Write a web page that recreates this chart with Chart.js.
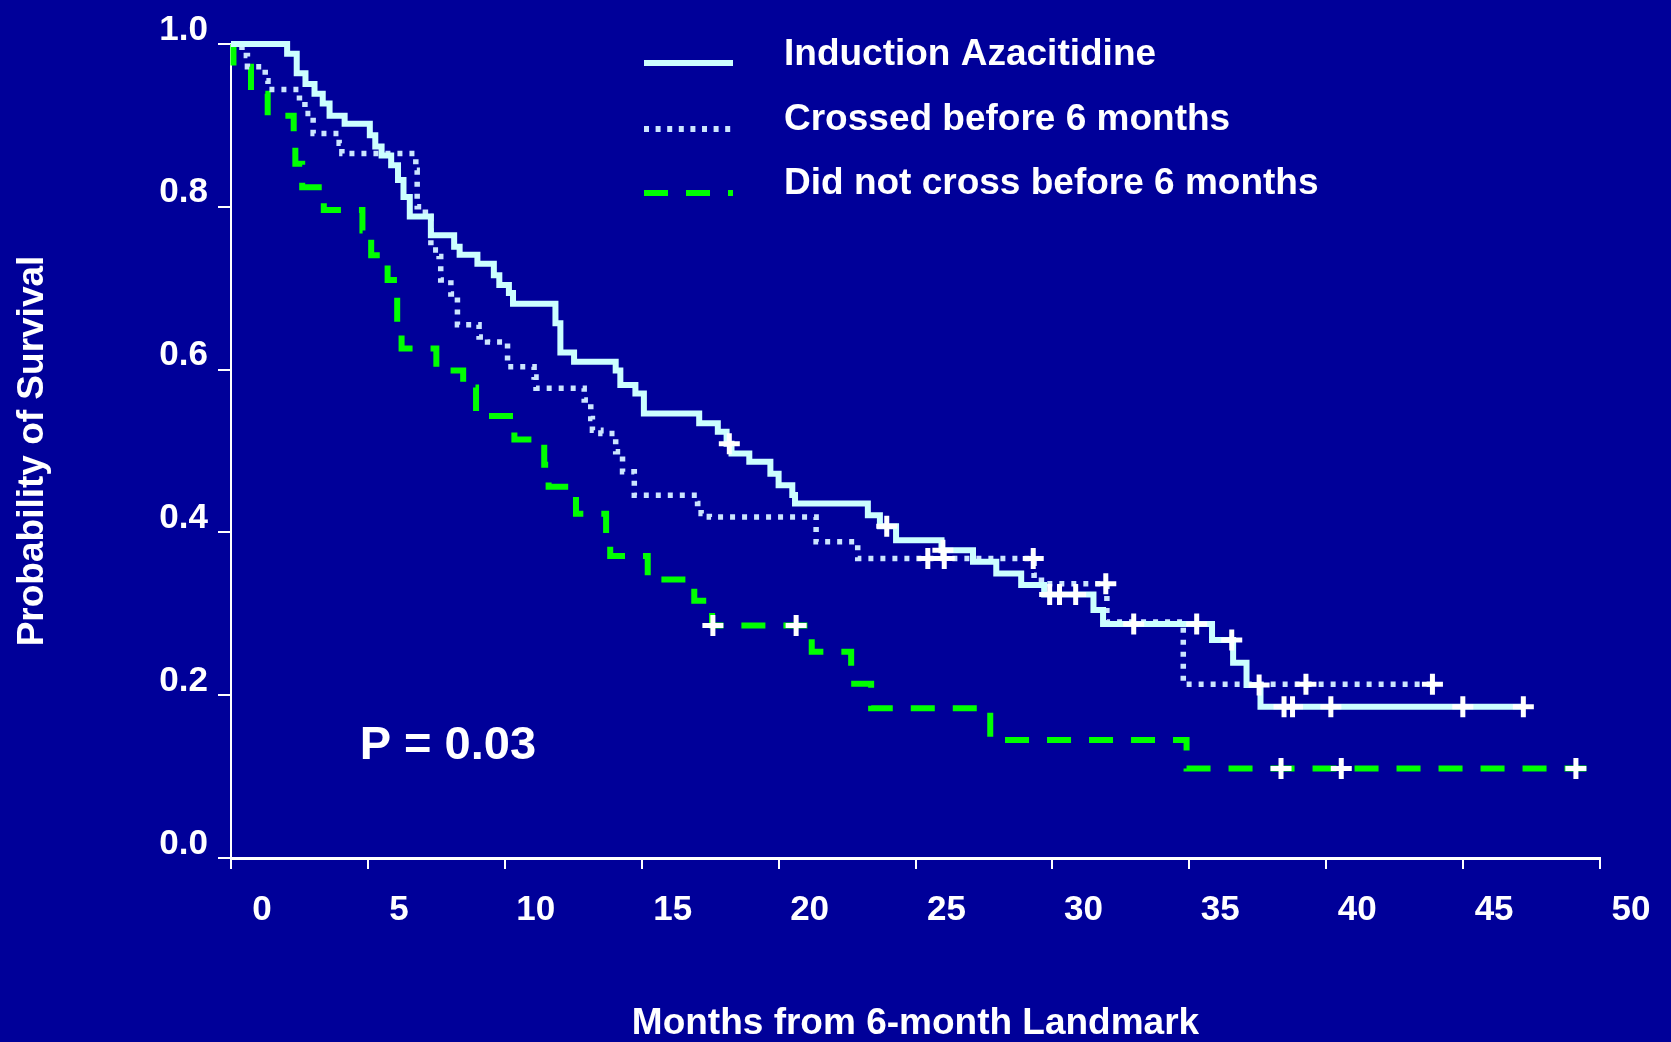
<!DOCTYPE html>
<html><head><meta charset="utf-8">
<script src="https://cdn.jsdelivr.net/npm/chart.js@4.4.1/dist/chart.umd.min.js"></script>
<style>html,body{margin:0;padding:0;background:#000099;overflow:hidden}canvas{display:block}</style>
</head><body>
<canvas id="c" width="1671" height="1042"></canvas>
<script>
// ---------- data ----------
const seriesNames = ['Induction Azacitidine', 'Crossed before 6 months', 'Did not cross before 6 months'];
const xTickLabels = ['0','5','10','15','20','25','30','35','40','45','50'];
const yTickLabels = ['0.0','0.2','0.4','0.6','0.8','1.0'];
const xAxisTitle = 'Months from 6-month Landmark';
const yAxisTitle = 'Probability of Survival';
const pValueText = 'P = 0.03';
const pValueAt = [4.7, 0.138];

// Induction Azacitidine (solid)
const azaTimes = [0, 2.05, 2.4, 2.72, 3.05, 3.35, 3.6, 4.15, 5.07, 5.27, 5.5, 5.85, 6.1, 6.3, 6.53, 7.3, 8.15, 8.35, 9.0, 9.6, 9.8, 10.15, 10.3, 11.85, 12.03, 12.53, 14.05, 14.22, 14.77, 15.08, 17.1, 17.78, 18.1, 18.28, 18.93, 19.7, 20.0, 20.5, 20.6, 23.26, 23.7, 24.29, 25.95, 27.1, 27.95, 28.86, 29.7, 31.5, 31.85, 35.83, 36.6, 37.09, 37.6, 47.2];
const azaSurv  = [1.0, 0.988, 0.964, 0.951, 0.939, 0.927, 0.912, 0.902, 0.888, 0.874, 0.863, 0.851, 0.833, 0.812, 0.788, 0.765, 0.751, 0.741, 0.730, 0.716, 0.704, 0.694, 0.681, 0.657, 0.621, 0.6095, 0.599, 0.581, 0.5707, 0.546, 0.534, 0.5235, 0.509, 0.497, 0.4867, 0.472, 0.458, 0.446, 0.4356, 0.421, 0.4077, 0.3905, 0.378, 0.364, 0.3496, 0.3353, 0.3238, 0.3046, 0.2874, 0.2677, 0.240, 0.2125, 0.1858, 0.1858];
const azaCensor = [18.2, 23.95, 26.0, 29.9, 30.26, 30.85, 32.97, 35.27, 36.55, 37.55, 38.46, 38.77, 40.17, 44.99, 47.2];

// Crossed before 6 months (dotted)
const crossTimes = [0, 0.4, 0.6, 1.25, 1.35, 2.5, 2.7, 3.0, 3.95, 4.05, 6.75, 6.8, 7.1, 7.3, 7.6, 7.66, 8.03, 8.27, 9.06, 9.37, 10.1, 11.07, 11.14, 12.9, 13.14, 13.2, 13.51, 14.05, 14.3, 14.73, 17.04, 17.17, 17.47, 21.37, 22.89, 29.33, 29.6, 31.99, 34.78, 43.88];
const crossSurv  = [1.0, 0.986, 0.972, 0.955, 0.944, 0.930, 0.9145, 0.890, 0.878, 0.8654, 0.845, 0.80, 0.788, 0.747, 0.739, 0.71, 0.693, 0.655, 0.640, 0.634, 0.6035, 0.591, 0.577, 0.5626, 0.54, 0.5255, 0.5215, 0.499, 0.4745, 0.4457, 0.4355, 0.4233, 0.419, 0.3884, 0.3678, 0.3475, 0.337, 0.290, 0.2133, 0.2133];
const crossCensor = [25.45, 26.05, 29.3, 31.95, 39.26, 43.88];

// Did not cross before 6 months (dashed)
const noCrossTimes = [0, 0.09, 0.73, 1.34, 2.29, 2.35, 2.6, 3.39, 4.8, 5.12, 5.72, 6.07, 6.23, 7.5, 8.48, 8.95, 10.35, 11.44, 11.6, 12.6, 13.7, 13.85, 15.22, 16.92, 17.57, 21.21, 22.65, 23.38, 27.73, 34.9, 49.5];
const noCrossSurv  = [1.0, 0.972, 0.939, 0.912, 0.88, 0.853, 0.824, 0.796, 0.771, 0.7405, 0.71, 0.657, 0.626, 0.599, 0.578, 0.543, 0.514, 0.483, 0.456, 0.423, 0.395, 0.371, 0.342, 0.316, 0.2855, 0.2535, 0.214, 0.184, 0.145, 0.110, 0.110];
const noCrossCensor = [17.6, 20.64, 38.35, 40.55, 49.12];

// ---------- helpers ----------
const FONT = '"Liberation Sans", Arial, Helvetica, sans-serif';
const BG = '#000099';
const COL_SOLID = '#CCFFFF';
const COL_DOT = '#CCE5FF';
const COL_DASH = '#00FF00';

function pts(times, surv) { return times.map((t, i) => ({x: t, y: surv[i]})); }
function levelAt(times, surv, t) {
  let s = surv[0];
  for (let i = 0; i < times.length; i++) if (times[i] <= t) s = surv[i];
  return s;
}
function censorPts(cens, times, surv) { return cens.map(t => ({x: t, y: levelAt(times, surv, t)})); }

const curveStyles = [
  {color: COL_SOLID, dash: [], width: 6},
  {color: COL_DOT, dash: [5, 7], width: 5.5},
  {color: COL_DASH, dash: [24, 18], width: 6}
];

function lineDs(label, times, surv, st, order) {
  return {type: 'line', label, data: pts(times, surv), stepped: 'before',
    borderColor: st.color, borderWidth: st.width, borderDash: st.dash,
    borderCapStyle: 'butt', borderJoinStyle: 'miter',
    pointRadius: 0, fill: false, order, clip: false};
}
function censorDs(label, cens, times, surv) {
  return {type: 'scatter', label, data: censorPts(cens, times, surv),
    pointStyle: 'cross', pointRadius: 10.5, pointBorderWidth: 5,
    pointBorderColor: '#FFFFFF', pointBackgroundColor: '#FFFFFF',
    showLine: false, order: 0, clip: false};
}

const bgPlugin = {
  id: 'bg',
  beforeDraw(chart) {
    const c = chart.ctx;
    c.save(); c.fillStyle = BG; c.fillRect(0, 0, chart.width, chart.height); c.restore();
  }
};

const overlayPlugin = {
  id: 'overlay',
  afterDraw(chart) {
    const c = chart.ctx;
    c.save();
    // legend
    const rows = [
      {lineY: 63, textY: 65},
      {lineY: 129, textY: 130},
      {lineY: 193, textY: 194}
    ];
    rows.forEach((r, i) => {
      const st = curveStyles[i];
      c.beginPath();
      c.strokeStyle = st.color;
      c.lineWidth = 6;
      c.lineCap = 'butt';
      c.setLineDash(i === 1 ? [5, 6.6] : st.dash);
      c.moveTo(644, r.lineY);
      c.lineTo(733, r.lineY);
      c.stroke();
      c.setLineDash([]);
      c.fillStyle = '#FFFFFF';
      c.font = 'bold 37px ' + FONT;
      c.textAlign = 'left';
      c.textBaseline = 'alphabetic';
      c.fillText(seriesNames[i], 784, r.textY);
    });
    // p-value
    const xs = chart.scales.x, ys = chart.scales.y;
    c.font = 'bold 47px ' + FONT;
    c.textAlign = 'left';
    c.textBaseline = 'middle';
    c.fillStyle = '#FFFFFF';
    c.fillText(pValueText, xs.getPixelForValue(pValueAt[0]), ys.getPixelForValue(pValueAt[1]));
    c.restore();
  }
};

new Chart(document.getElementById('c'), {
  type: 'line',
  data: {
    datasets: [
      censorDs('aza censored', azaCensor, azaTimes, azaSurv),
      censorDs('cross censored', crossCensor, crossTimes, crossSurv),
      censorDs('nocross censored', noCrossCensor, noCrossTimes, noCrossSurv),
      lineDs(seriesNames[0], azaTimes, azaSurv, curveStyles[0], 1),
      lineDs(seriesNames[1], crossTimes, crossSurv, curveStyles[1], 2),
      lineDs(seriesNames[2], noCrossTimes, noCrossSurv, curveStyles[2], 3)
    ]
  },
  options: {
    responsive: false,
    maintainAspectRatio: false,
    devicePixelRatio: 1,
    animation: false,
    events: [],
    layout: {padding: {top: 44, right: 71, left: 0, bottom: 0}},
    plugins: {legend: {display: false}, tooltip: {enabled: false}},
    scales: {
      x: {
        type: 'linear', min: 0, max: 50,
        afterFit(s) { s.height = 184; },
        ticks: {
          stepSize: 5, autoSkip: false, maxRotation: 0,
          callback: (v, i) => xTickLabels[i],
          color: '#FFFFFF', font: {family: FONT, size: 35, weight: 'bold'},
          padding: 20, labelOffset: 31
        },
        grid: {drawOnChartArea: false, drawTicks: true, tickLength: 11, color: '#FFFFFF', lineWidth: 2},
        border: {display: true, color: '#FFFFFF', width: 3},
        title: {display: true, text: xAxisTitle, color: '#FFFFFF',
          font: {family: FONT, size: 37, weight: 'bold', lineHeight: 1},
          padding: {top: 0, bottom: 0}}
      },
      y: {
        type: 'linear', min: 0, max: 1,
        afterFit(s) { s.width = 231; },
        ticks: {
          stepSize: 0.2,
          callback: (v, i) => yTickLabels[i],
          color: '#FFFFFF', font: {family: FONT, size: 35, weight: 'bold'},
          padding: 10, labelOffset: -14
        },
        grid: {drawOnChartArea: false, drawTicks: true, tickLength: 13, color: '#FFFFFF', lineWidth: 2},
        border: {display: true, color: '#FFFFFF', width: 2},
        title: {display: true, text: yAxisTitle, color: '#FFFFFF',
          font: {family: FONT, size: 37, weight: 'bold', lineHeight: 1},
          padding: {top: 14, bottom: 0}}
      }
    }
  },
  plugins: [bgPlugin, overlayPlugin]
});
</script>
</body></html>
